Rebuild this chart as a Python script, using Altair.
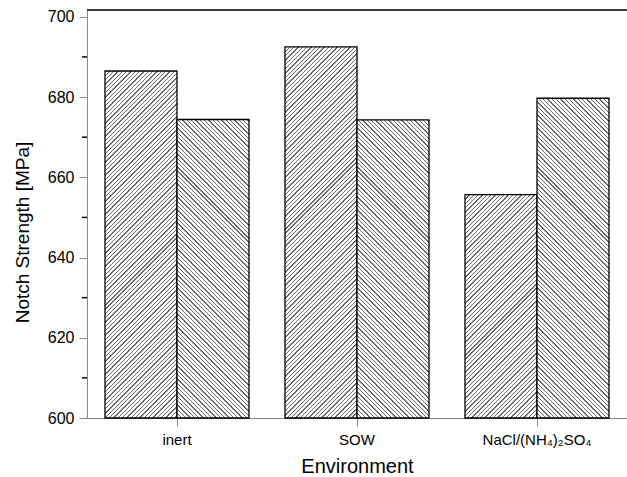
import math
import altair as alt
import pandas as pd

# ---- data ----
categories = ["inert", "SOW", "NaCl/(NH₄)₂SO₄"]
series = ["Series 1", "Series 2"]
values_s1 = [686.5, 692.5, 655.7]
values_s2 = [674.4, 674.3, 679.7]
y_major = [600, 620, 640, 660, 680, 700]
y_minor = [610, 630, 650, 670, 690]

# ---- layout / style constants ----
W, H = 540, 408
Y0, Y1 = 600, 701.7
PAD_IN, PAD_OUT = 0.2, 0.1
FONT = "Liberation Sans"
STRIPE_PERIOD = 3.06   # px, perpendicular
STRIPE_WIDTH = 0.95    # px
STRIPE_COLOR = "#6a6a6a"

step = W / (len(categories) - PAD_IN + 2 * PAD_OUT)
bar_w = step * (1 - PAD_IN) / len(series)

rows = []
for c, v1, v2 in zip(categories, values_s1, values_s2):
    rows.append({"cat": c, "series": series[0], "value": v1, "base": Y0})
    rows.append({"cat": c, "series": series[1], "value": v2, "base": Y0})
df = pd.DataFrame(rows)


def hatch(w, h, forward):
    a = (w + h) / (w * w + h * h)
    unit = math.sqrt(2) / (w + h)
    P = STRIPE_PERIOD * unit
    L = STRIPE_WIDTH * unit
    stops = []
    t = 0.0
    while t < 1.0:
        s = min(t + L, 1.0)
        e = min(t + P, 1.0)
        stops.append(alt.GradientStop(offset=t, color=STRIPE_COLOR))
        stops.append(alt.GradientStop(offset=s, color=STRIPE_COLOR))
        stops.append(alt.GradientStop(offset=s, color="white"))
        stops.append(alt.GradientStop(offset=e, color="white"))
        t += P
    if forward:  # "///"
        return alt.LinearGradient(gradient="linear", stops=stops,
                                  x1=0, y1=0, x2=a * w, y2=a * h)
    else:        # "\\\"
        return alt.LinearGradient(gradient="linear", stops=stops,
                                  x1=0, y1=1, x2=a * w, y2=1 - a * h)


y_axis = alt.Axis(values=y_major, tickSize=8, labelPadding=5, labelFontSize=16,
                  title="Notch Strength [MPa]", titleFontSize=19,
                  titleFontWeight="normal", titleX=-59, titleY=222,
                  titleAngle=270, titleAlign="center", titleBaseline="alphabetic",
                  grid=False)
x_axis = alt.Axis(tickSize=8, labelPadding=6, labelFontSize=15, labelAngle=0,
                  title="Environment", titleFontSize=20, titleFontWeight="normal",
                  titleY=54, titleBaseline="alphabetic", grid=False)

x_enc = alt.X("cat:N", sort=categories,
              scale=alt.Scale(domain=categories, paddingInner=PAD_IN, paddingOuter=PAD_OUT),
              axis=x_axis)
xo_enc = alt.XOffset("series:N",
                     scale=alt.Scale(domain=series, paddingInner=0, paddingOuter=0))
y_scale = alt.Scale(domain=[Y0, Y1], nice=False, zero=False)

layers = []
for i, row in df.iterrows():
    h = (row["value"] - Y0) / (Y1 - Y0) * H
    forward = row["series"] == series[0]
    layer = (
        alt.Chart(df)
        .transform_filter((alt.datum.cat == row["cat"]) & (alt.datum.series == row["series"]))
        .mark_bar(fill=hatch(bar_w, h, forward), stroke="black", strokeWidth=1.3)
        .encode(x=x_enc, xOffset=xo_enc,
                y=alt.Y("value:Q", scale=y_scale, axis=y_axis),
                y2="base:Q")
    )
    layers.append(layer)

minor = (
    alt.Chart(pd.DataFrame({"v": y_minor}))
    .mark_rule(color="black", strokeWidth=1.5)
    .encode(y=alt.Y("v:Q", scale=y_scale, axis=y_axis),
            x=alt.value(-5), x2=alt.value(0))
)
top_border = (
    alt.Chart(pd.DataFrame({"v": [0]}))
    .mark_rule(color="black", strokeWidth=1.5)
    .encode(x=alt.value(0), x2=alt.value(W), y=alt.value(0))
)

chart = (
    alt.layer(*layers, minor, top_border)
    .properties(width=W, height=H,
                autosize=alt.AutoSizeParams(type="none"),
                padding={"left": 87, "top": 10, "right": 0, "bottom": 59})
    .configure_view(stroke=None)
    .configure_axis(labelFont=FONT, titleFont=FONT, labelColor="black",
                    titleColor="black", domainColor="black", tickColor="black",
                    domainWidth=1.5, tickWidth=1.5)
    .configure(background="white")
)

chart.save("out.html", embed_options={"renderer": "svg", "actions": False})
